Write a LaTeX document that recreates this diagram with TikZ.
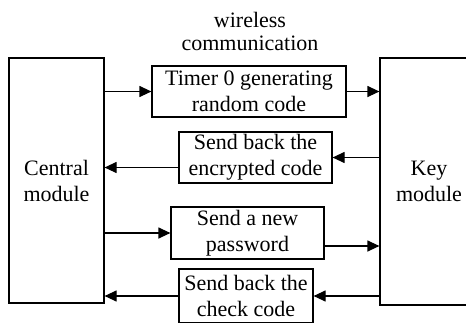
\documentclass[tikz,border=0pt]{standalone}
\usepackage{fontspec}
\setmainfont{Liberation Serif}
\usetikzlibrary{arrows.meta}

\begin{document}
\begin{tikzpicture}[x=0.5pt,y=-0.5pt,
    box/.style={draw,line width=0.6pt,inner sep=0pt,align=center,font=\fontsize{11}{13}\selectfont},
    arr/.style={line width=0.6pt,-{Triangle[length=6pt,width=5.5pt]}}]
        \useasboundingbox (0,0) rectangle (466,322);
        \clip (0,0) rectangle (466,322);

        % the two modules
        \node[box,minimum width=47.5pt,minimum height=122.5pt] (central) at (56.5,180.5) {Central\\module};
        \node[box,minimum width=49pt,minimum height=123.5pt] (key) at (429,181.5) {Key\\module};

        \node[align=center,font=\fontsize{11}{11.5}\selectfont] (wireless) at (250,31) {wireless\\communication};

        % messages
        \node[box,minimum width=97pt,minimum height=25.5pt] (timer) at (249,91.5) {Timer 0 generating\\random code};
        \node[box,minimum width=76.5pt,minimum height=25.5pt] (enc) at (255.5,157.5) {Send back the\\encrypted code};
        \node[box,minimum width=76.5pt,minimum height=26pt] (pass) at (247.5,233) {Send a new\\password};
        \node[box,minimum width=67pt,minimum height=27pt] (check) at (246,296) {Send back the\\check code};

        \coordinate (enc-out) at ([yshift=-5pt]enc.west);
        \coordinate (pass-out) at ([yshift=-6.5pt]pass.east);

        \draw[arr] (central.east |- timer.west) -- (timer.west);
        \draw[arr] (timer.east) -- (key.west |- timer.east);
        \draw[arr] (key.west |- enc.east) -- (enc.east);
        \draw[arr] (enc-out) -- (enc-out -| central.east);
        \draw[arr] (central.east |- pass.west) -- (pass.west);
        \draw[arr] (pass-out) -- (pass-out -| key.west);
        \draw[arr] (key.west |- check.east) -- (check.east);
        \draw[arr] (check.west) -- (central.east |- check.west);
    \end{tikzpicture}
\end{document}
